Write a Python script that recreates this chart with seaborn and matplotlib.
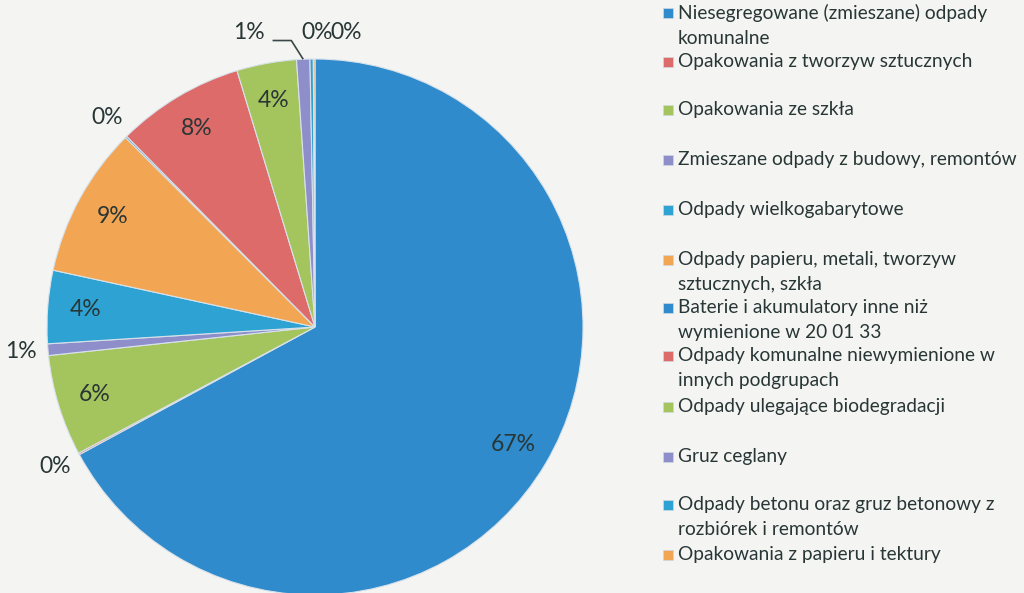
"""Struktura odpadów komunalnych - wykres kołowy w stylu Excela."""
import numpy as np
import seaborn as sns
from matplotlib import pyplot as plt
from matplotlib.patches import Rectangle

categories = [
    "Niesegregowane (zmieszane) odpady\nkomunalne",
    "Opakowania z tworzyw sztucznych",
    "Opakowania ze szkła",
    "Zmieszane odpady z budowy, remontów",
    "Odpady wielkogabarytowe",
    "Odpady papieru, metali, tworzyw\nsztucznych, szkła",
    "Baterie i akumulatory inne niż\nwymienione w 20 01 33",
    "Odpady komunalne niewymienione w\ninnych podgrupach",
    "Odpady ulegające biodegradacji",
    "Gruz ceglany",
    "Odpady betonu oraz gruz betonowy z\nrozbiórek i remontów",
    "Opakowania z papieru i tektury",
]
shares = [67.1, 0.1, 6.1, 0.7, 4.4, 9.1, 0.1, 7.7, 3.6, 0.8, 0.2, 0.1]

base_colors = ["#2f8bcc", "#dc6b69", "#a4c45e", "#8e8ecb", "#2ea2d3", "#f2a553"]
colors = sns.color_palette(base_colors * 2)

sns.set_theme(style="white")
plt.rcParams["font.family"] = ["Lato", "DejaVu Sans"]
text_col = "#283636"
bg = "#f4f5f3"

fig = plt.figure(figsize=(10.24, 5.93), dpi=100, facecolor=bg)
# pie centre ~ (315, 327) px, radius ~268 px
span = 1.2
scale = 268
w_px = 2 * span * scale
ax = fig.add_axes([(315 - w_px / 2) / 1024, (593 - 327 - w_px / 2) / 593,
                   w_px / 1024, w_px / 593])
ax.set_facecolor("none")

wedges, _ = ax.pie(shares, colors=colors, startangle=90, counterclock=False,
                   radius=1.0, wedgeprops=dict(edgecolor="#d8e2ea", linewidth=0.8))
ax.set_xlim(-span, span)
ax.set_ylim(-span, span)
ax.axis("off")

total = sum(shares)
# manual nudges for the crowded labels at the top (Excel moves them apart)
nudge = {9: (-0.20, 0.0), 10: (0.02, 0.0), 11: (0.12, 0.0)}
for i, (w, v) in enumerate(zip(wedges, shares)):
    pct = v / total * 100
    mid = np.deg2rad((w.theta1 + w.theta2) / 2)
    r = 0.86 if pct >= 3 else 1.1
    x, y = r * np.cos(mid), r * np.sin(mid)
    dx, dy = nudge.get(i, (0, 0))
    x, y = x + dx, y + dy
    ax.text(x, y, f"{pct:.0f}%", ha="center", va="center", fontsize=16.5,
            color=text_col)
    if i == 9:
        ex, ey = 1.0 * np.cos(mid), 1.0 * np.sin(mid)
        ax.plot([x + 0.09, x + 0.16, ex], [y - 0.03, y - 0.03, ey],
                color="#3a4848", lw=1.2, solid_capstyle="butt")

# legend, Excel-like irregular spacing (first-line centres, px from top)
legend_y = [13, 62, 110, 160, 210, 260, 308, 356, 407, 457, 505, 555]
for lab, c, py in zip(categories, colors, legend_y):
    fig.patches.append(Rectangle((663 / 1024, (593 - py - 5) / 593),
                                 10 / 1024, 10 / 593, transform=fig.transFigure,
                                 facecolor=c, edgecolor="#cfd8de", lw=0.5))
    fig.text(678 / 1024, (593 - py + 9) / 593, lab, ha="left", va="top",
             fontsize=13.8, color=text_col, linespacing=1.6)

fig.savefig("out.png", dpi=100, facecolor=bg)
